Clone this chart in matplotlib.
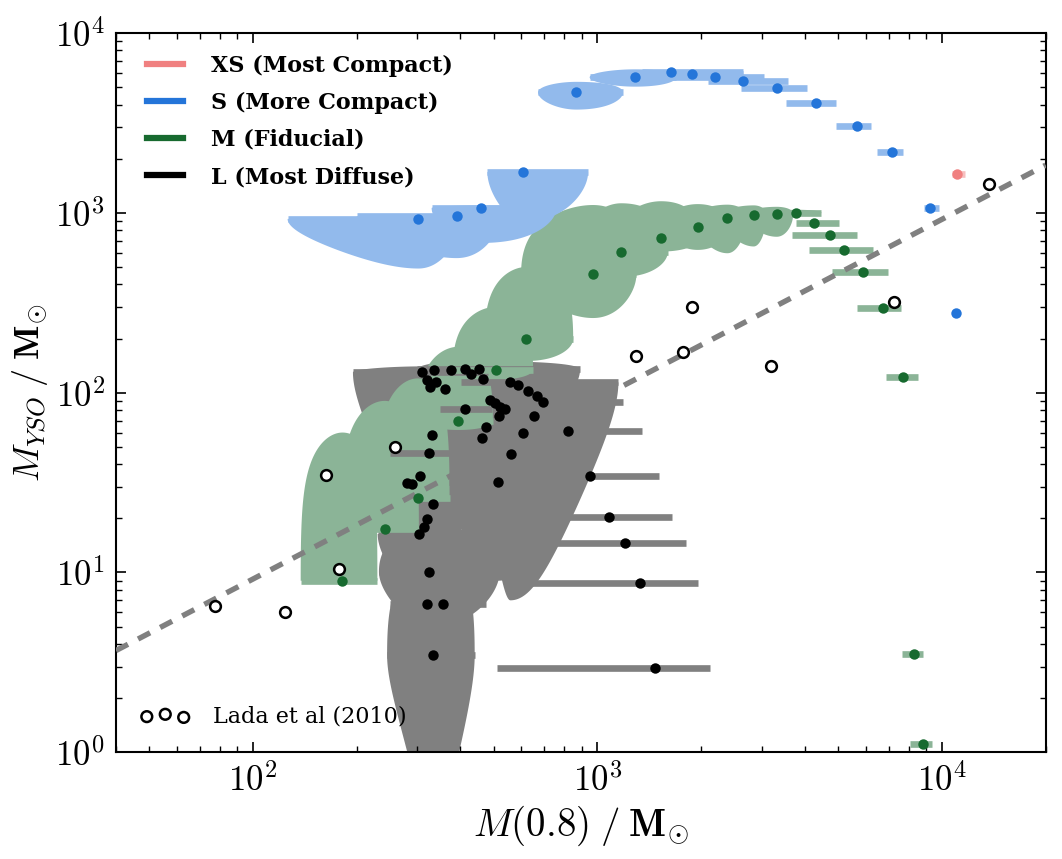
import numpy as np
import matplotlib.pyplot as plt
from matplotlib.lines import Line2D
from matplotlib.ticker import FuncFormatter

plt.rcParams['mathtext.fontset'] = 'cm'
plt.rcParams['font.family'] = 'DejaVu Serif'

# --- S (More Compact): x, y, bar/blob x-range, blob y-range
s_x = [302, 390, 460, 608, 868, 1285, 1631, 1876, 2189, 2652, 3329, 4308, 5683, 7145, 9231, 10982]
s_y = [924, 956, 1063, 1680, 4679, 5670, 6093, 5937, 5690, 5429, 4926, 4064, 3040, 2171, 1059, 277]
s_xlo = [126, 200, 330, 479, 672, 949, 1350, 1700, 1600, 2100, 2610, 3520, 4910, 6460, 8890, 10982]
s_xhi = [400, 520, 760, 939, 1186, 1694, 2650, 2650, 3050, 3570, 4050, 4910, 6220, 7690, 9790, 10982]
s_ylo = [490, 560, 680, 892, 3750, 5030, 6093, 5937, 5690, 5429, 4926, 4064, 3040, 2171, 1059, 277]
s_yhi = [935, 985, 1100, 1730, 5350, 6280, 6093, 5937, 5690, 5429, 4926, 4064, 3040, 2171, 1059, 277]

# --- XS (Most Compact)
xs_x = [11083]
xs_y = [1637]
xs_xlo = [10700]
xs_xhi = [11680]
xs_ylo = [1637]
xs_yhi = [1637]

# --- M (Fiducial)
m_x = [181.8, 241, 300.6, 394.7, 507.5, 622, 970, 1172, 1529, 1954, 2383, 2841, 3313, 3779,
       4263, 4721, 5208, 5898, 6742, 7690, 8276, 8808]
m_y = [9.0, 17.5, 26.0, 69.5, 134, 199.5, 455, 605, 726, 830, 936, 972, 988, 1001,
       881, 749, 621, 467, 294, 122, 3.53, 1.11]
m_xlo = [137.5, 180, 229, 300, 380, 470, 600, 900, 1150, 1550, 1900, 2300, 2700, 3300,
         3780, 3670, 4120, 4800, 5650, 6900, 7650, 8070]
m_xhi = [229.6, 303, 372, 497, 650, 850, 1297, 1600, 1985, 2400, 2705, 3093, 3700, 4467,
         5040, 5680, 6300, 6970, 7600, 8500, 8830, 9370]
m_ylo = [9.0, 17.0, 25.5, 62, 118, 150, 260, 440, 609, 622, 596, 650, 736, 960,
         881, 749, 621, 467, 294, 122, 3.53, 1.11]
m_yhi = [60, 90, 120, 180, 300, 500, 1105, 1130, 1160, 1118, 1110, 1100, 1080, 1040,
         881, 749, 621, 467, 294, 122, 3.53, 1.11]

# --- L (Most Diffuse)
l_x = [309.4, 335.3, 374.9, 412.5, 430.5, 452.0, 466.5, 320.8, 339.1, 327.3, 360.1, 558.7,
       589.3, 628.6, 667.5, 696.6, 487.5, 505.4, 520.2, 540.5, 517.8, 412.5, 652.9, 473.7,
       463.4, 607.8, 819.5, 330.9, 325.1, 561.0, 304.6, 279.3, 289.4, 515.7, 334.0, 320.8,
       313.0, 304.1, 949.3, 1078, 1205, 1329, 325.1, 320.0, 357.0, 332.5, 1466]
l_y = [129.7, 133.6, 133.6, 134.8, 126.4, 134.8, 118.6, 117.5, 114.9, 107.8, 105.1, 114.1,
       109.8, 102.5, 95.4, 88.3, 90.9, 87.2, 83.5, 81.3, 74.1, 80.7, 73.8, 64.6,
       56.2, 59.6, 61.2, 57.9, 46.1, 45.7, 34.4, 31.3, 31.0, 31.7, 24.1, 19.9,
       17.9, 16.4, 34.4, 20.4, 14.6, 8.77, 10.1, 6.70, 6.70, 3.47, 2.94]
l_xlo = [195, 335.3, 374.9, 300, 430.5, 452.0, 466.5, 320.8, 339.1, 327.3, 360.1, 402,
         589.3, 628.6, 667.5, 500, 487.5, 505.4, 520.2, 540.5, 517.8, 348, 652.9, 473.7,
         463.4, 607.8, 600, 330.9, 250, 561.0, 304.6, 279.3, 289.4, 370, 334.0, 320.8,
         313.0, 230, 650, 743, 680, 535, 232, 249, 270, 245, 510]
l_xhi = [480, 335.3, 374.9, 890, 430.5, 452.0, 466.5, 320.8, 339.1, 327.3, 360.1, 1150,
         589.3, 628.6, 667.5, 1185, 487.5, 505.4, 520.2, 540.5, 517.8, 493, 652.9, 473.7,
         463.4, 607.8, 1350, 330.9, 470, 561.0, 304.6, 279.3, 289.4, 780, 334.0, 320.8,
         313.0, 304.1, 1510, 1650, 1810, 1960, 520, 400, 475, 440, 2117]
l_ylo = [12, 133.6, 133.6, 60, 126.4, 134.8, 118.6, 117.5, 114.9, 107.8, 105.1, 7,
         109.8, 102.5, 95.4, 88.3, 90.9, 87.2, 83.5, 81.3, 74.1, 80.7, 73.8, 64.6,
         56.2, 59.6, 61.2, 57.9, 12, 45.7, 34.4, 31.3, 31.0, 9, 24.1, 19.9,
         17.9, 8, 34.4, 20.4, 14.6, 8.77, 5, 6.70, 6.70, 0.4, 2.94]
l_yhi = [140, 133.6, 133.6, 150, 126.4, 134.8, 118.6, 117.5, 114.9, 107.8, 105.1, 114.1,
         109.8, 102.5, 95.4, 88.3, 90.9, 87.2, 83.5, 81.3, 74.1, 80.7, 73.8, 64.6,
         56.2, 59.6, 61.2, 57.9, 80, 45.7, 34.4, 31.3, 31.0, 60, 24.1, 19.9,
         17.9, 16.4, 34.4, 20.4, 14.6, 8.77, 18, 6.70, 6.70, 12, 2.94]

# --- Lada et al (2010)
lada_x = [77.4, 123.9, 162.9, 177.7, 257.8, 1294, 1768, 1876, 3183, 7241, 13729]
lada_y = [6.5, 6.02, 34.7, 10.5, 50.0, 160, 169, 300, 140.6, 320, 1440]
lada_slope = 0.092

c_xs, c_s, c_m, c_l = '#F08080', '#2475D9', '#176A2F', 'black'
f_xs, f_s, f_m, f_l = '#F7BFBF', '#92BAEC', '#8BB497', '#808080'


def blob(ax, x, y, xlo, xhi, ylo, yhi, color):
    # half-ellipses in linear data space, seen through the log axes
    t = np.linspace(0, 2 * np.pi, 600)
    c, s = np.cos(t), np.sin(t)
    px = x + np.where(c > 0, xhi - x, x - xlo) * c
    py = y + np.where(s > 0, yhi - y, y - ylo) * s
    py = np.clip(py, 1e-3, None)
    ax.fill(px, py, color=color, lw=0, zorder=1)


series = [
    (l_x, l_y, l_xlo, l_xhi, l_ylo, l_yhi, c_l, f_l),
    (m_x, m_y, m_xlo, m_xhi, m_ylo, m_yhi, c_m, f_m),
    (s_x, s_y, s_xlo, s_xhi, s_ylo, s_yhi, c_s, f_s),
    (xs_x, xs_y, xs_xlo, xs_xhi, xs_ylo, xs_yhi, c_xs, f_xs),
]

fig = plt.figure(figsize=(10.62, 8.59), dpi=100)
ax = fig.add_axes([0.1092, 0.1242, 0.8754, 0.8374])
ax.set_xscale('log')
ax.set_yscale('log')

for x, y, xlo, xhi, ylo, yhi, col, fcol in series:
    for i in range(len(x)):
        if ylo[i] < y[i] or yhi[i] > y[i]:
            blob(ax, x[i], y[i], xlo[i], xhi[i], ylo[i], yhi[i], fcol)
for x, y, xlo, xhi, ylo, yhi, col, fcol in series:
    ax.hlines(y, xlo, xhi, colors=fcol, lw=4.8, zorder=2, capstyle='butt')
for x, y, xlo, xhi, ylo, yhi, col, fcol in series:
    ax.plot(x, y, 'o', color=col, ms=7.5, mec='none', zorder=4)

xl = np.array([40, 2e4])
ax.plot(xl, lada_slope * xl, color='#808080', lw=3.9, dashes=(2.5, 2.1), zorder=3)
lada = ax.scatter(lada_x, lada_y, s=60, facecolor='white', edgecolor='black', lw=1.8, zorder=5,
                  label='Lada et al (2010)')

ax.set_xlim(40, 2e4)
ax.set_ylim(1, 1e4)

fmt = FuncFormatter(lambda v, p: r'$10^{%d}$' % round(np.log10(v)))
ax.xaxis.set_major_formatter(fmt)
ax.yaxis.set_major_formatter(fmt)
ax.tick_params(which='both', direction='in', top=True, right=True, labelsize=25)
ax.tick_params(which='major', length=7, width=1.2, pad=8)
ax.tick_params(which='minor', length=4, width=1.0)
for sp in ax.spines.values():
    sp.set_linewidth(1.5)

ax.set_xlabel(r'$M(0.8)\;/\;\mathbf{M}_{\odot}$', fontsize=28)
ax.set_ylabel(r'$M_{YSO}\;/\;\mathbf{M}_{\odot}$', fontsize=26)

handles = [Line2D([], [], color=c_xs, lw=4.5), Line2D([], [], color=c_s, lw=4.5),
           Line2D([], [], color=c_m, lw=4.5), Line2D([], [], color=c_l, lw=4.5)]
names = ['XS (Most Compact)', 'S (More Compact)', 'M (Fiducial)', 'L (Most Diffuse)']
leg1 = ax.legend(handles, names, loc='upper left', bbox_to_anchor=(0.033, 0.97), frameon=False,
                 prop={'weight': 'bold', 'size': 16}, handlelength=1.65, handletextpad=1.25,
                 labelspacing=0.68, borderaxespad=0, borderpad=0)
ax.add_artist(leg1)
ax.legend(handles=[lada], loc='lower left', bbox_to_anchor=(0.026, 0.034), frameon=False,
          prop={'size': 16}, handletextpad=1.0, handlelength=2.26, scatterpoints=3,
          scatteryoffsets=[0.4, 0.55, 0.35], borderaxespad=0, borderpad=0)

fig.savefig('out.png', dpi=100)
